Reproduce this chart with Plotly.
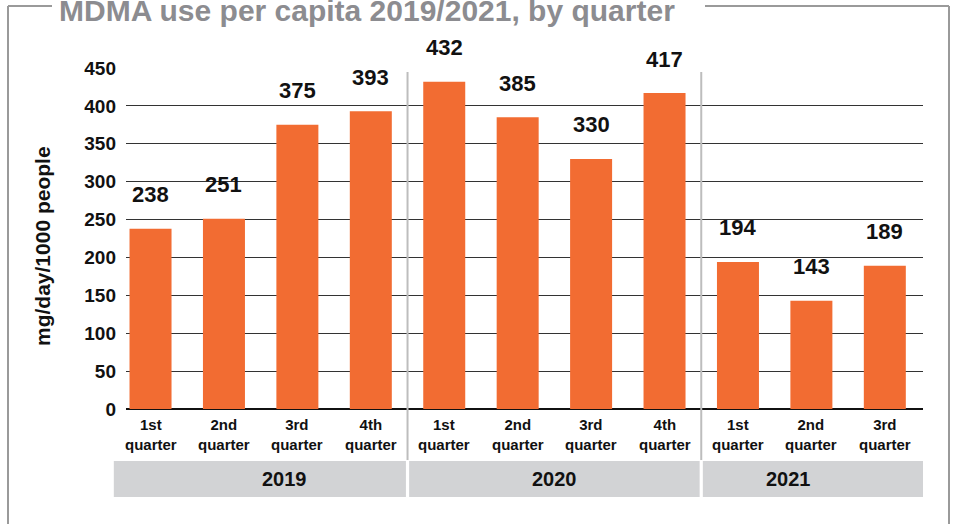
import plotly.graph_objects as go

# ---- data ----
years = ["2019", "2020", "2021"]
quarters = [["1st", "2nd", "3rd", "4th"],
            ["1st", "2nd", "3rd", "4th"],
            ["1st", "2nd", "3rd"]]
values = [238, 251, 375, 393, 432, 385, 330, 417, 194, 143, 189]
y_ticks = [0, 50, 100, 150, 200, 250, 300, 350, 400, 450]
title_text = "MDMA use per capita 2019/2021, by quarter"
y_title = "mg/day/1000 people"

# ---- layout constants ----
W, H = 957, 524
L, R, T, B = 126, 34, 68, 115
PW, PH = W - L - R, H - T - B
X_RANGE = [-0.334, 10.52]
ORANGE = "#F26C32"
FONT = "Liberation Sans, Arial, sans-serif"

def px_x(p):
    return (p - L) / PW

def px_y(p):
    return (T + PH - p) / PH

def idx_x(d):
    return (d - X_RANGE[0]) / (X_RANGE[1] - X_RANGE[0])

cats, ords, groups = [], [], []
i = 0
for y, qs in zip(years, quarters):
    start = i
    for q in qs:
        cats.append(f"{y} {q}")
        ords.append(q)
        i += 1
    groups.append((y, start, i - 1))

fig = go.Figure(go.Bar(
    x=cats, y=values, marker=dict(color=ORANGE, line=dict(width=0)),
    width=0.572, hoverinfo="skip",
))

annotations = []
shapes = []

# value labels
for c, v in zip(cats, values):
    annotations.append(dict(x=c, y=v, xref="x", yref="y", text=str(v),
                            showarrow=False, yanchor="middle", yshift=34,
                            font=dict(family=FONT, size=22, color="#111", weight="bold")))

# category labels
for c, o in zip(cats, ords):
    annotations.append(dict(x=c, y=0, xref="x", yref="paper", text=f"{o}<br>quarter",
                            showarrow=False, yanchor="middle", yshift=-25,
                            font=dict(family=FONT, size=15, color="#111", weight="bold")))

# year bands
for n, (y, s, e) in enumerate(groups):
    x0 = idx_x(s - 0.5) + (0.002 if n > 0 else 0)
    x1 = idx_x(e + 0.5) - 0.002
    if n == len(groups) - 1:
        x1 = 1.0
    shapes.append(dict(type="rect", xref="paper", yref="paper",
                       x0=x0, x1=x1, y0=px_y(497), y1=px_y(461),
                       fillcolor="#D2D3D5", line=dict(width=0), layer="below"))
    annotations.append(dict(x=(x0 + x1) / 2, y=px_y(479), xref="paper", yref="paper",
                            text=y, showarrow=False, yanchor="middle",
                            font=dict(family=FONT, size=20, color="#111", weight="bold")))

# year separators
for (y, s, e) in groups[:-1]:
    xs = idx_x(e + 0.5)
    shapes.append(dict(type="line", xref="paper", yref="paper",
                       x0=xs, x1=xs, y0=px_y(460), y1=px_y(72),
                       line=dict(color="#BDBDBD", width=2), layer="above"))

# frame
FR = "#9A9A9A"
shapes += [
    dict(type="line", xref="paper", yref="paper", x0=px_x(8), x1=px_x(8),
         y0=px_y(6), y1=px_y(530), line=dict(color=FR, width=2)),
    dict(type="line", xref="paper", yref="paper", x0=px_x(949), x1=px_x(949),
         y0=px_y(6), y1=px_y(530), line=dict(color=FR, width=2)),
    dict(type="line", xref="paper", yref="paper", x0=px_x(8), x1=px_x(52),
         y0=px_y(6), y1=px_y(6), line=dict(color=FR, width=2)),
    dict(type="line", xref="paper", yref="paper", x0=px_x(705), x1=px_x(949),
         y0=px_y(6), y1=px_y(6), line=dict(color=FR, width=2)),
]

# title
annotations.append(dict(x=px_x(57), y=px_y(22), xref="paper", yref="paper",
                        text=title_text, showarrow=False, xanchor="left", yanchor="bottom",
                        yshift=-7,
                        font=dict(family=FONT, size=30, color="#8C8C90", weight="bold")))

# y axis title
annotations.append(dict(x=px_x(42), y=px_y(246), xref="paper", yref="paper",
                        text=y_title, showarrow=False, textangle=-90,
                        xanchor="center", yanchor="middle",
                        font=dict(family=FONT, size=21, color="#111", weight="bold")))

fig.update_layout(
    width=W, height=H,
    margin=dict(l=L, r=R, t=T, b=B, pad=0),
    paper_bgcolor="white", plot_bgcolor="white",
    showlegend=False,
    xaxis=dict(type="category", range=X_RANGE, showticklabels=False, ticks="",
               showgrid=False, zeroline=False, showline=False, fixedrange=True),
    yaxis=dict(range=[0, 450], tickvals=y_ticks, ticks="", showgrid=True,
               gridcolor="#333", gridwidth=1, zeroline=True, zerolinecolor="#111",
               zerolinewidth=1.5, showline=False, ticklabelstandoff=9,
               tickfont=dict(family=FONT, size=19, color="#111", weight="bold"),
               fixedrange=True),
    annotations=annotations,
    shapes=shapes,
)

fig.write_html("out.html", config={"displayModeBar": False},
               post_script="document.body.style.margin='0';document.body.style.overflow='hidden';")
